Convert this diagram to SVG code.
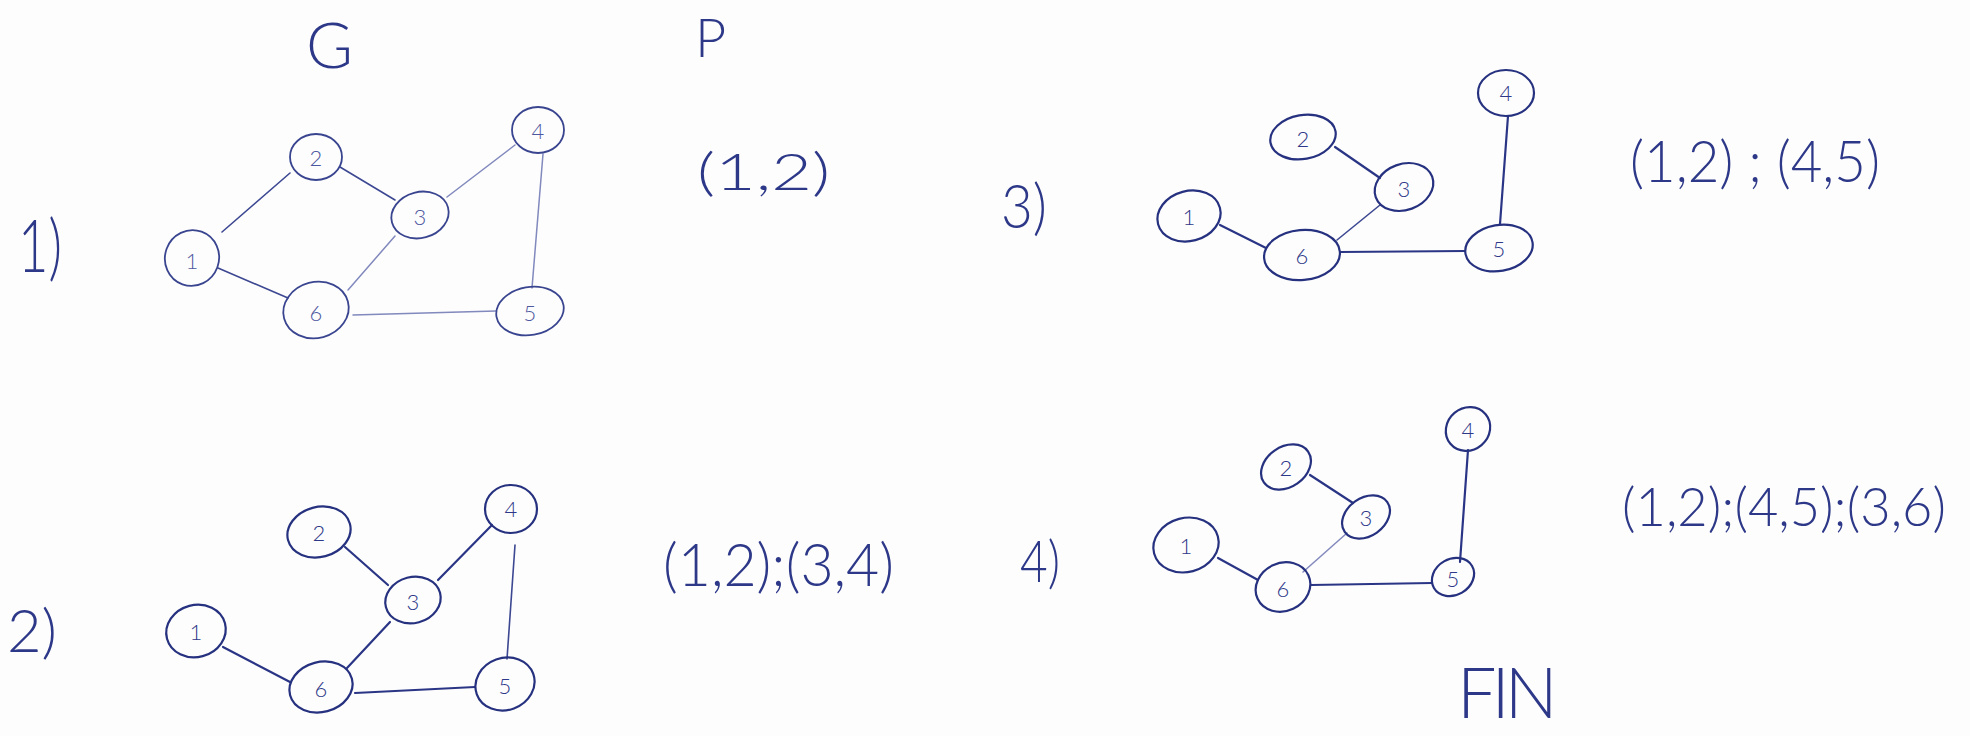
<svg xmlns="http://www.w3.org/2000/svg" width="1970" height="736" viewBox="0 0 1970 736">
  <style>
    .bg { fill: #fdfdfd; }
    .node ellipse { fill: none; stroke: #26317f; stroke-width: 2.2; }
    .node text { font-family: Lato, "Open Sans", "Liberation Sans", sans-serif; font-weight: 300; font-size: 22px; fill: #2d3888; text-anchor: middle; dominant-baseline: central; }
    .g1 .node ellipse { stroke: #3a4590; stroke-width: 1.8; }
    .g1 .node text { fill: #4e58a0; }
    .edge { stroke: #2a3585; stroke-width: 2.2; fill: none; stroke-linecap: round; }
    .edge.thin { stroke: #8189bd; stroke-width: 1.5; }
    .edge.mid { stroke: #3d4892; stroke-width: 1.6; }
    .hand { font-family: Lato, "Open Sans", "Liberation Sans", sans-serif; font-weight: 300; fill: #2d3888; }
  </style>
  <rect class="bg" x="0" y="0" width="1970" height="736"/>

  <!-- Panel labels and texts -->
  <g id="labels">
    <text class="hand" x="306" y="68" font-size="64">G</text>
    <text class="hand" x="695" y="57" font-size="54">P</text>
    <text class="hand" x="18" y="272" font-size="72" textLength="44" lengthAdjust="spacingAndGlyphs">1)</text>
    <text class="hand" x="697" y="190" font-size="52" textLength="133" lengthAdjust="spacingAndGlyphs">(1,2)</text>
    <text class="hand" x="1001" y="228" font-size="62" textLength="46" lengthAdjust="spacingAndGlyphs">3)</text>
    <text class="hand" x="1630" y="182" font-size="58" textLength="250" lengthAdjust="spacingAndGlyphs">(1,2) ; (4,5)</text>
    <text class="hand" x="7" y="652" font-size="60" textLength="50" lengthAdjust="spacingAndGlyphs">2)</text>
    <text class="hand" x="663" y="586" font-size="60" textLength="231" lengthAdjust="spacingAndGlyphs">(1,2);(3,4)</text>
    <text class="hand" x="1020" y="582" font-size="58" textLength="40" lengthAdjust="spacingAndGlyphs">4)</text>
    <text class="hand" x="1622" y="526" font-size="54" textLength="324" lengthAdjust="spacingAndGlyphs">(1,2);(4,5);(3,6)</text>
    <text class="hand" x="1457" y="718" font-size="70" letter-spacing="-5">FIN</text>
  </g>

  <!-- Connectors -->
  <g id="connectors">
    <!-- Panel 1 -->
    <line class="edge mid" x1="222" y1="232" x2="290" y2="173"/>
    <line class="edge mid" x1="340" y1="167" x2="395" y2="200"/>
    <line class="edge thin" x1="447" y1="197" x2="515" y2="145"/>
    <line class="edge thin" x1="543" y1="154" x2="532" y2="288"/>
    <line class="edge thin" x1="353" y1="315" x2="496" y2="311"/>
    <line class="edge thin" x1="395" y1="236" x2="348" y2="290"/>
    <line class="edge mid" x1="218" y1="268" x2="288" y2="298"/>
    <!-- Panel 3 -->
    <line class="edge" x1="1335" y1="147" x2="1380" y2="178"/>
    <line class="edge mid" x1="1380" y1="205" x2="1337" y2="240"/>
    <line class="edge" x1="1220" y1="225" x2="1266" y2="248"/>
    <line class="edge" x1="1340" y1="252" x2="1465" y2="251"/>
    <line class="edge" x1="1508" y1="116" x2="1500" y2="224"/>
    <!-- Panel 2 -->
    <line class="edge" x1="345" y1="547" x2="388" y2="585"/>
    <line class="edge" x1="438" y1="580" x2="492" y2="525"/>
    <line class="edge" x1="390" y1="622" x2="347" y2="668"/>
    <line class="edge" x1="223" y1="647" x2="290" y2="682"/>
    <line class="edge" x1="355" y1="693" x2="475" y2="687"/>
    <line class="edge mid" x1="515" y1="545" x2="507" y2="659"/>
    <!-- Panel 4 -->
    <line class="edge" x1="1310" y1="475" x2="1353" y2="503"/>
    <line class="edge thin" x1="1347" y1="533" x2="1303" y2="572"/>
    <line class="edge" x1="1218" y1="558" x2="1258" y2="580"/>
    <line class="edge" x1="1311" y1="585" x2="1432" y2="583"/>
    <line class="edge" x1="1468" y1="450" x2="1460" y2="562"/>
  </g>

  <!-- Panel 1 : G -->
  <g class="g1">
    <g id="p1-n1" class="node"><ellipse cx="192" cy="258" rx="27" ry="28" transform="rotate(20 192 258)"/><text x="192" y="260">1</text></g>
    <g id="p1-n2" class="node"><ellipse cx="316" cy="157" rx="26" ry="23"/><text x="316" y="157">2</text></g>
    <g id="p1-n3" class="node"><ellipse cx="420" cy="215" rx="29" ry="23" transform="rotate(-15 420 215)"/><text x="420" y="216">3</text></g>
    <g id="p1-n4" class="node"><ellipse cx="538" cy="130" rx="26" ry="23"/><text x="538" y="130">4</text></g>
    <g id="p1-n5" class="node"><ellipse cx="530" cy="311" rx="34" ry="24" transform="rotate(-10 530 311)"/><text x="530" y="312">5</text></g>
    <g id="p1-n6" class="node"><ellipse cx="316" cy="310" rx="33" ry="28" transform="rotate(-15 316 310)"/><text x="316" y="312">6</text></g>
  </g>

  <!-- Panel 3 -->
  <g>
    <g id="p3-n1" class="node"><ellipse cx="1189" cy="216" rx="32" ry="25" transform="rotate(-15 1189 216)"/><text x="1189" y="216">1</text></g>
    <g id="p3-n2" class="node"><ellipse cx="1303" cy="137" rx="33" ry="22" transform="rotate(-10 1303 137)"/><text x="1303" y="138">2</text></g>
    <g id="p3-n3" class="node"><ellipse cx="1404" cy="187" rx="30" ry="23" transform="rotate(-20 1404 187)"/><text x="1404" y="188">3</text></g>
    <g id="p3-n4" class="node"><ellipse cx="1506" cy="93" rx="28" ry="23"/><text x="1506" y="92">4</text></g>
    <g id="p3-n5" class="node"><ellipse cx="1499" cy="248" rx="34" ry="23" transform="rotate(-10 1499 248)"/><text x="1499" y="248">5</text></g>
    <g id="p3-n6" class="node"><ellipse cx="1302" cy="255" rx="38" ry="25" transform="rotate(-5 1302 255)"/><text x="1302" y="255">6</text></g>
  </g>

  <!-- Panel 2 -->
  <g>
    <g id="p2-n1" class="node"><ellipse cx="196" cy="631" rx="30" ry="26" transform="rotate(-15 196 631)"/><text x="196" y="631">1</text></g>
    <g id="p2-n2" class="node"><ellipse cx="319" cy="532" rx="32" ry="25" transform="rotate(-15 319 532)"/><text x="319" y="532">2</text></g>
    <g id="p2-n3" class="node"><ellipse cx="413" cy="600" rx="28" ry="23" transform="rotate(-15 413 600)"/><text x="413" y="601">3</text></g>
    <g id="p2-n4" class="node"><ellipse cx="511" cy="509" rx="26" ry="24"/><text x="511" y="508">4</text></g>
    <g id="p2-n5" class="node"><ellipse cx="505" cy="684" rx="30" ry="26" transform="rotate(-20 505 684)"/><text x="505" y="685">5</text></g>
    <g id="p2-n6" class="node"><ellipse cx="321" cy="687" rx="32" ry="25" transform="rotate(-15 321 687)"/><text x="321" y="688">6</text></g>
  </g>

  <!-- Panel 4 -->
  <g>
    <g id="p4-n1" class="node"><ellipse cx="1186" cy="545" rx="33" ry="27" transform="rotate(-15 1186 545)"/><text x="1186" y="545">1</text></g>
    <g id="p4-n2" class="node"><ellipse cx="1286" cy="467" rx="27" ry="20" transform="rotate(-35 1286 467)"/><text x="1286" y="467">2</text></g>
    <g id="p4-n3" class="node"><ellipse cx="1366" cy="517" rx="26" ry="19" transform="rotate(-35 1366 517)"/><text x="1366" y="517">3</text></g>
    <g id="p4-n4" class="node"><ellipse cx="1468" cy="429" rx="23" ry="21" transform="rotate(-40 1468 429)"/><text x="1468" y="429">4</text></g>
    <g id="p4-n5" class="node"><ellipse cx="1453" cy="577" rx="22" ry="18" transform="rotate(-30 1453 577)"/><text x="1453" y="578">5</text></g>
    <g id="p4-n6" class="node"><ellipse cx="1283" cy="587" rx="28" ry="24" transform="rotate(-25 1283 587)"/><text x="1283" y="588">6</text></g>
  </g>
</svg>
